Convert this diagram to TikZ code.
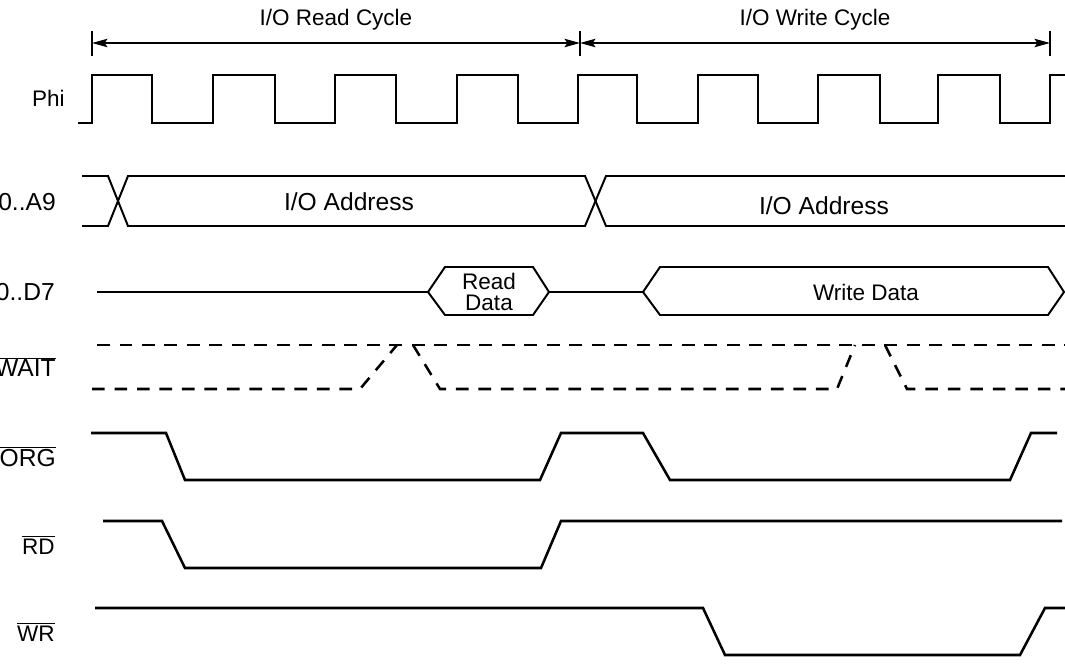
\documentclass[tikz,border=0pt]{standalone}
\usepackage{fontspec}
\setmainfont{Liberation Sans}
\usetikzlibrary{arrows.meta}

\tikzset{
  sig/.style={line width=1.8pt},
  bus/.style={line width=1.4pt},
  waitsig/.style={line width=1.8pt, dash pattern=on 9pt off 7pt},
  tick/.style={line width=1pt},
  dim/.style={line width=1pt, {Stealth[length=11pt,width=6pt,inset=2pt]}-{Stealth[length=11pt,width=6pt,inset=2pt]}},
  lbl/.style={anchor=east, inner sep=0pt, font=\fontsize{16}{18}\selectfont},
  lblwide/.style={lbl, font=\fontsize{17.5}{19}\selectfont},
  txt/.style={inner sep=0pt, align=center, font=\fontsize{16}{15}\selectfont},
  txtwide/.style={txt, font=\fontsize{17.5}{19}\selectfont}
}

\begin{document}
\begin{tikzpicture}[x=0.025cm, y=-0.025cm]
   \useasboundingbox (0,0) rectangle (1065,670);
   \clip (0,0) rectangle (1065,670);
   % cycles
   \node[txt](tRead) at (336,20) {I/O Read Cycle};
   \node[txt](tWrite) at (815,20) {I/O Write Cycle};
   \coordinate (cA) at (92,43);
   \coordinate (cB) at (580,43);
   \coordinate (cC) at (1050,43);
   \draw[tick] (92,31) -- (92,56);
   \draw[tick] (580,31) -- (580,56);
   \draw[tick] (1050,31) -- (1050,56);
   \draw[dim] (cA) -- (cB);
   \draw[dim] (cB) -- (cC);
   % labels
   \node[lbl](lPhi) at (65,98) {Phi};
   \node[lblwide](lAddr) at (56,202) {A0..A9};
   \node[lblwide](lData) at (55,292) {D0..D7};
   \node[lblwide](lWait) at (56,367) {$\overline{\mbox{WAIT}}$};
   \node[lblwide](lIorg) at (56,457) {$\overline{\mbox{IORG}}$};
   \node[lbl](lRd) at (55,545) {$\overline{\mbox{RD}}$};
   \node[lbl](lWr) at (55,632) {$\overline{\mbox{WR}}$};
   % Phi
   \draw[sig] (78,123) foreach \r/\f in {92/152, 213/275, 335/396, 457/518, 578/637, 698/758, 818/880, 938/1000}
      { -- (\r,123) -- (\r,75) -- (\f,75) -- (\f,123) } -- (1050,123) -- (1050,75) -- (1065,75);
   % address bus
   \draw[bus] (82,176) -- (108,176) -- (128,226) -- (585,226) -- (606,176) -- (1065,176);
   \draw[bus] (82,226) -- (108,226) -- (128,176) -- (585,176) -- (606,226) -- (1065,226);
   \node[txtwide](nAddrR) at (349,202) {I/O Address};
   \node[txtwide](nAddrW) at (824,206) {I/O Address};
   % data bus
   \draw[bus] (97,292) -- (428,292);
   \draw[bus] (428,292) -- (445,267) -- (533,267) -- (549,292) -- (533,315) -- (445,315) -- cycle;
   \draw[bus] (549,292) -- (643,292);
   \draw[bus] (643,292) -- (660,267) -- (1048,267) -- (1064,292) -- (1048,315) -- (660,315) -- cycle;
   \node[txt](nReadD) at (489,292) {Read\\Data};
   \node[txt](nWriteD) at (866,292) {Write Data};
   % WAIT
   \draw[waitsig] (97,345) -- (1065,345);
   \draw[waitsig] (92,389) -- (360,389) -- (397,345);
   \draw[waitsig] (413,345) -- (440,389) -- (837,389) -- (855,345);
   \draw[waitsig] (885,345) -- (907,389) -- (1065,389);
   % IORG
   \draw[sig] (91,433) -- (166,433) -- (185,480) -- (540,480) -- (561,433) -- (643,433) -- (670,480) -- (1010,480) -- (1031,433) -- (1057,433);
   % RD
   \draw[sig] (103,521) -- (162,521) -- (185,568) -- (541,568) -- (561,521) -- (1062,521);
   % WR
   \draw[sig] (95,608) -- (703,608) -- (725,655) -- (1020,655) -- (1045,608) -- (1065,608);
\end{tikzpicture}
\end{document}
